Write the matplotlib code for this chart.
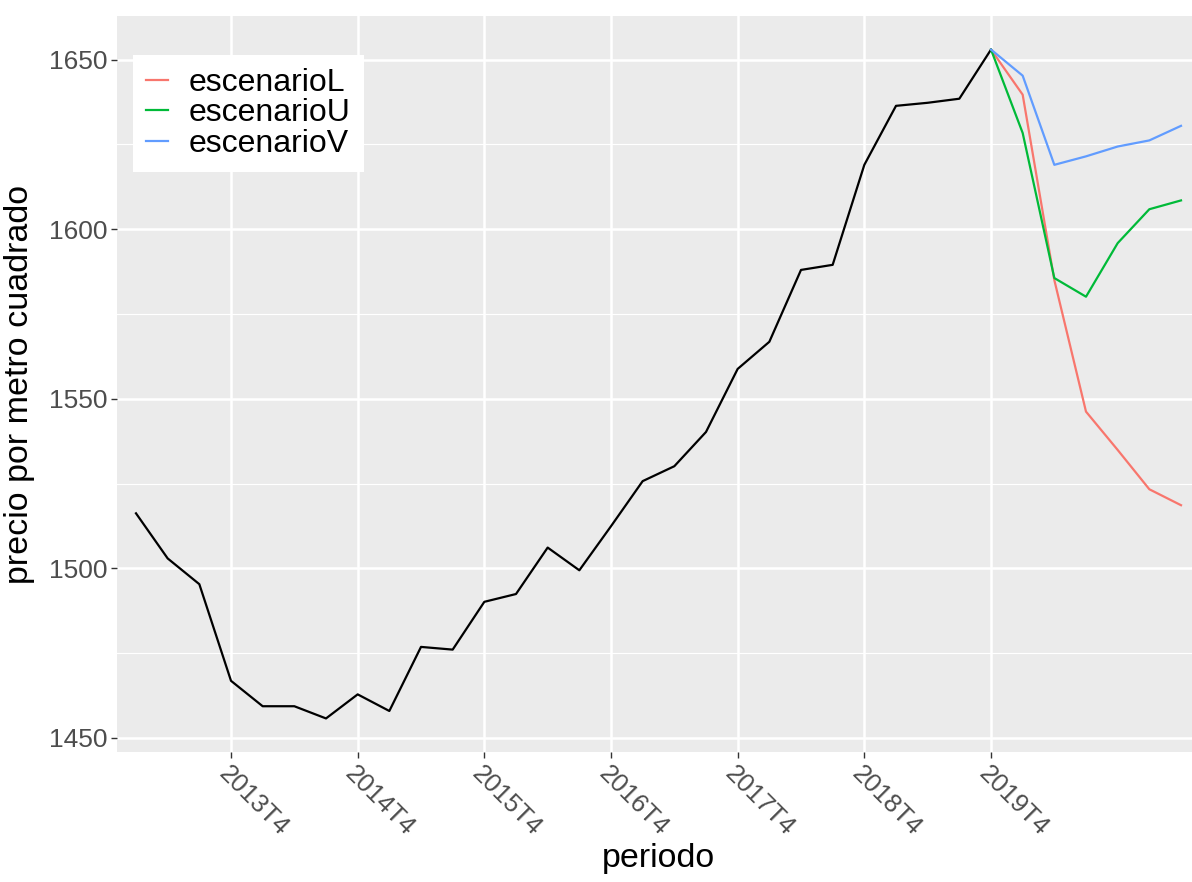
import matplotlib  # plotting library

matplotlib.use('Agg')  # non-interactive backend, no display available
import matplotlib.pyplot as plt
from matplotlib.ticker import MultipleLocator

# Quarterly periods from 2013T1 to 2021T2
periodos = [f'{anio}T{t}' for anio in range(2013, 2022) for t in range(1, 5)][:34]

# Observed price per square metre, 2013T1 .. 2019T4
precio_observado = [
    1516.2, 1502.9, 1495.3, 1466.8,
    1459.3, 1459.3, 1455.7, 1462.8,
    1457.9, 1476.8, 1476.0, 1490.1,
    1492.4, 1506.1, 1499.4, 1512.4,
    1525.7, 1530.1, 1540.2, 1558.8,
    1566.8, 1588.0, 1589.5, 1619.0,
    1636.4, 1637.3, 1638.5, 1653.0,
]

# Scenarios, 2019T4 .. 2021T2 (they start at the last observed value)
escenario_L = [1653.0, 1639.7, 1585.0, 1546.2, 1534.9, 1523.3, 1518.6]
escenario_U = [1653.0, 1628.4, 1585.6, 1580.1, 1595.9, 1605.9, 1608.5]
escenario_V = [1653.0, 1645.3, 1619.0, 1621.5, 1624.4, 1626.2, 1630.5]

escenarios = ['escenarioL', 'escenarioU', 'escenarioV']
colores = ['#F8766D', '#00BA38', '#619CFF']  # ggplot default hues

# x tick labels: only the fourth quarter of each year up to 2019
etiquetas_x = [f'{anio}T4' for anio in range(2013, 2020)]


def main():
    plt.rcParams['font.family'] = ['Liberation Sans', 'DejaVu Sans']

    fig = plt.figure(figsize=(11.92, 8.82), dpi=100, facecolor='white')
    ax = fig.add_axes([117 / 1192, 130 / 882, 1083 / 1192, 736 / 882])
    ax.set_facecolor('#EBEBEB')

    x_obs = list(range(len(precio_observado)))
    inicio = len(precio_observado) - 1
    x_esc = list(range(inicio, inicio + len(escenario_L)))

    ax.plot(x_obs, precio_observado, color='black', linewidth=1.6, zorder=3)
    for nombre, serie, color in zip(escenarios, [escenario_L, escenario_U, escenario_V], colores):
        ax.plot(x_esc, serie, color=color, linewidth=1.6, label=nombre, zorder=3)

    # axis limits (ggplot expansion: 0.6 for discrete, 5% for continuous)
    ax.set_xlim(-0.6, len(periodos) - 1 + 0.6)
    ax.set_ylim(1445.8, 1662.9)

    # ticks and grid
    pos_x = [periodos.index(e) for e in etiquetas_x]
    ax.set_xticks(pos_x)
    ax.set_xticklabels(etiquetas_x, rotation=-45, ha='left', va='top',
                       rotation_mode='anchor', fontsize=18.5, color='#4D4D4D')
    ax.yaxis.set_major_locator(MultipleLocator(50))
    ax.yaxis.set_minor_locator(MultipleLocator(25))
    ax.tick_params(axis='y', labelsize=19, labelcolor='#4D4D4D')
    ax.tick_params(which='major', length=4, width=1, color='#333333', pad=3)
    ax.tick_params(which='minor', length=0)
    ax.grid(which='major', color='white', linewidth=1.8)
    ax.grid(which='minor', axis='y', color='white', linewidth=0.8)
    ax.set_axisbelow(True)
    for spine in ax.spines.values():
        spine.set_visible(False)

    ax.set_xlabel('periodo', fontsize=24.5, labelpad=2)
    ax.set_ylabel('precio por metro cuadrado', fontsize=24.5, labelpad=10)

    # legend in the upper-left corner of the panel
    leg = ax.legend(loc='upper left', bbox_to_anchor=(16 / 1083, (752 - 55) / 736),
                    borderaxespad=0, fontsize=23, frameon=True, fancybox=False,
                    handlelength=0.7, handletextpad=0.65, labelspacing=0.02,
                    borderpad=0.4)
    leg.get_frame().set_facecolor('white')
    leg.get_frame().set_edgecolor('none')
    leg.get_frame().set_alpha(1)

    plt.savefig('out.png', dpi=100)
    plt.close()


if __name__ == "__main__":
    main()
